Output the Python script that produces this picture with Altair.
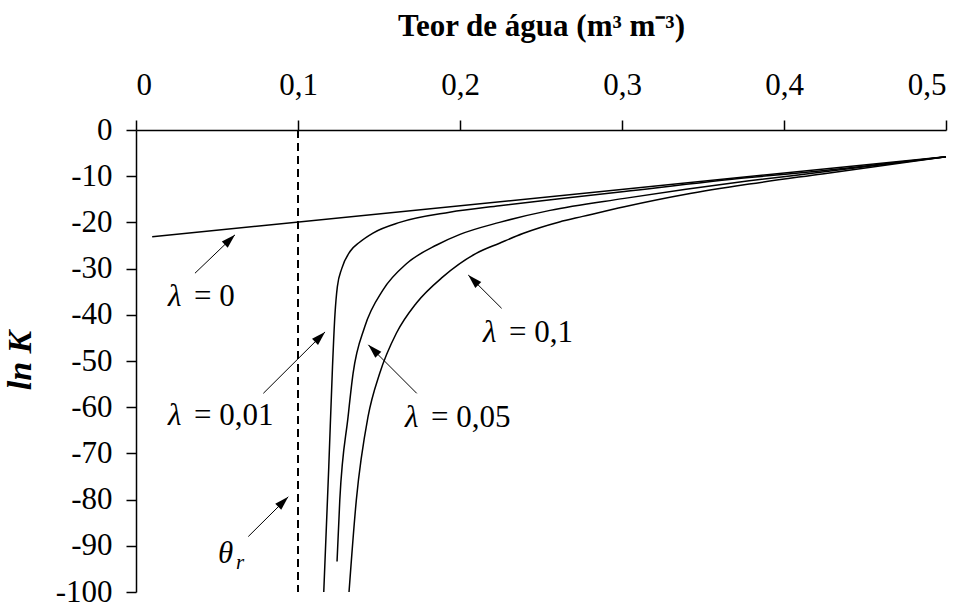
import math
import altair as alt
import pandas as pd

# Hydraulic conductivity curves: ln K against water content for several lambda values
theta_l0 = [0.01, 0.5]
lnk_l0 = [-23.1, -5.8]

theta_l001 = [0.1159, 0.1190, 0.1213, 0.1228, 0.1243, 0.1270, 0.1321, 0.1380, 0.1463,
              0.1628, 0.1936, 0.2244, 0.2614, 0.3015, 0.3785, 0.4236, 0.5]
lnk_l001 = [-100.0, -72.9, -51.2, -40.0, -33.9, -30.0, -26.3, -24.3, -22.3,
            -20.0, -17.8, -16.4, -14.9, -13.3, -10.3, -8.8, -5.8]

theta_l005 = [0.1241, 0.1258, 0.1309, 0.1340, 0.1412, 0.1525, 0.1671, 0.1856,
              0.2000, 0.2244, 0.2556, 0.3015, 0.3395, 0.3785, 0.4236, 0.5]
lnk_l005 = [-93.4, -80.1, -62.1, -52.7, -42.6, -34.6, -28.9, -24.9,
            -22.6, -20.0, -17.4, -14.8, -12.8, -11.0, -9.1, -5.8]

theta_l01 = [0.1315, 0.1360, 0.1432, 0.1504, 0.1607, 0.1730, 0.1894, 0.2100, 0.2244,
             0.2388, 0.2614, 0.2758, 0.3015, 0.3395, 0.3785, 0.4236, 0.5]
lnk_l01 = [-100.0, -80.1, -62.1, -52.7, -44.0, -37.5, -31.8, -26.7, -24.5,
           -22.4, -19.9, -18.7, -16.6, -13.9, -11.7, -9.5, -5.8]

theta_r = 0.1
x_ticks = [0, 0.1, 0.2, 0.3, 0.4, 0.5]
y_ticks = [0, -10, -20, -30, -40, -50, -60, -70, -80, -90, -100]

# Labels (left edge / baseline, in data units)
lab_x = [0.0198, 0.0198, 0.166, 0.2142]
lab_y = [-38.2, -63.9, -64.2, -45.8]
lab_val = ["= 0", "= 0,01", "= 0,05", "= 0,1"]

# Arrows: tail -> head
arr_x0 = [0.0364, 0.0786, 0.1733, 0.2257, 0.0693]
arr_y0 = [-31.0, -57.0, -57.0, -38.6, -88.0]
arr_x1 = [0.0611, 0.1167, 0.1434, 0.2051, 0.0940]
arr_y1 = [-22.7, -43.7, -46.5, -31.4, -79.4]

W, H = 810, 462
FONT = "Liberation Serif"

rows = []
for name, xs, ys in [("0", theta_l0, lnk_l0), ("0.01", theta_l001, lnk_l001),
                     ("0.05", theta_l005, lnk_l005), ("0.1", theta_l01, lnk_l01)]:
    for i, (a, b) in enumerate(zip(xs, ys)):
        rows.append({"series": name, "theta": a, "lnK": b, "i": i})
curves = pd.DataFrame(rows)

xs = alt.Scale(domain=[0, 0.5], nice=False, zero=False)
ys = alt.Scale(domain=[-100, 0], nice=False, zero=False)

x_axis = alt.Axis(orient="top", values=x_ticks,
                  labelExpr="replace(format(datum.value, '.1~f'), '.', ',')",
                  title="Teor de água (m³ m⁻³)", titleFont=FONT, titleFontSize=31,
                  titleFontWeight="bold", titlePadding=27, labelPadding=19)
y_axis = alt.Axis(orient="left", values=y_ticks, labelExpr="toString(datum.value)",
                  title="ln K", titleFont=FONT, titleFontSize=34, titleFontWeight="bold",
                  titleFontStyle="italic", titleX=-99, titleY=230, labelPadding=14)

base = alt.Chart(curves)
lines = base.mark_line(color="black", strokeWidth=1.5, interpolate="monotone").encode(
    x=alt.X("theta:Q", scale=xs, axis=x_axis),
    y=alt.Y("lnK:Q", scale=ys, axis=y_axis),
    detail="series:N",
    order="i:Q",
)

theta_r_line = alt.Chart(pd.DataFrame({"x": [theta_r], "y": [0], "y2": [-100]})).mark_rule(
    color="black", strokeWidth=2, strokeDash=[8, 5]
).encode(x=alt.X("x:Q", scale=xs), y=alt.Y("y:Q", scale=ys), y2="y2:Q")

# Arrow shafts and heads
kx, ky = W / 0.5, H / 100.0
angles = []
for a0, b0, a1, b1 in zip(arr_x0, arr_y0, arr_x1, arr_y1):
    dx = (a1 - a0) * kx
    dy = -(b1 - b0) * ky
    angles.append(math.degrees(math.atan2(dx, -dy)) % 360)
arrows = pd.DataFrame({"x0": arr_x0, "y0": arr_y0, "x1": arr_x1, "y1": arr_y1, "ang": angles})

shafts = alt.Chart(arrows).mark_rule(color="black", strokeWidth=1).encode(
    x=alt.X("x0:Q", scale=xs), y=alt.Y("y0:Q", scale=ys), x2="x1:Q", y2="y1:Q")
heads = alt.Chart(arrows).mark_point(
    shape="M0,0L0.6,2L-0.6,2Z", filled=True, color="black", opacity=1, size=200, strokeWidth=0
).encode(x=alt.X("x1:Q", scale=xs), y=alt.Y("y1:Q", scale=ys),
         angle=alt.Angle("ang:Q", scale=None))

labels = pd.DataFrame({"x": lab_x, "y": lab_y, "v": lab_val, "sym": ["λ"] * 4})
lam = alt.Chart(labels).mark_text(font=FONT, fontSize=31, fontStyle="italic", align="left",
                                  baseline="alphabetic", color="black").encode(
    x=alt.X("x:Q", scale=xs), y=alt.Y("y:Q", scale=ys), text="sym:N")
vals = alt.Chart(labels).mark_text(font=FONT, fontSize=31, align="left", dx=26,
                                   baseline="alphabetic", color="black").encode(
    x=alt.X("x:Q", scale=xs), y=alt.Y("y:Q", scale=ys), text="v:N")

tr = pd.DataFrame({"x": [0.0506], "y": [-93.7], "t": ["θ"], "s": ["r"]})
theta_txt = alt.Chart(tr).mark_text(font=FONT, fontSize=31, fontStyle="italic", align="left",
                                    baseline="alphabetic", color="black").encode(
    x=alt.X("x:Q", scale=xs), y=alt.Y("y:Q", scale=ys), text="t:N")
sub_txt = alt.Chart(tr).mark_text(font=FONT, fontSize=21, fontStyle="italic", align="left",
                                  baseline="alphabetic", color="black", dx=18, dy=6).encode(
    x=alt.X("x:Q", scale=xs), y=alt.Y("y:Q", scale=ys), text="s:N")

chart = alt.layer(theta_r_line, lines, shafts, heads, lam, vals, theta_txt, sub_txt).properties(
    width=W, height=H,
    background="white",
    autosize=alt.AutoSizeParams(type="none"),
    padding={"left": 136, "top": 130, "right": 25, "bottom": 13},
).configure_view(stroke="transparent").configure_axis(
    grid=False, domainColor="black", domainWidth=1.5, tickColor="black", tickWidth=1.5,
    tickSize=10, labelFont=FONT, labelFontSize=31, labelColor="black", titleColor="black",
)

chart.save("out.html", embed_options={"renderer": "svg", "actions": False})
